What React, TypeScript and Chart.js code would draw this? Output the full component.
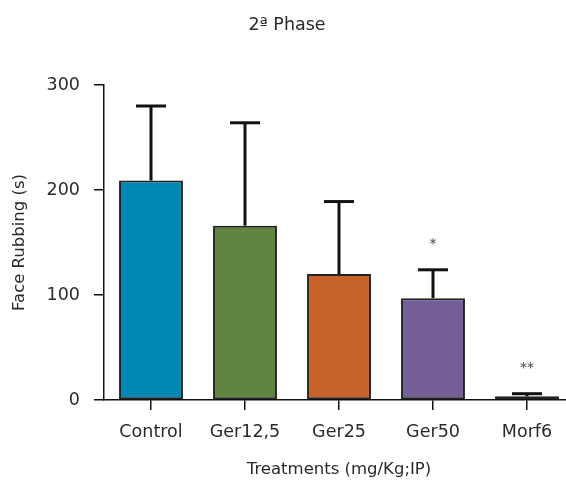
import React, { useEffect, useRef } from "react";
import { Chart, registerables } from "chart.js";

Chart.register(...registerables);

const categories = ["Control", "Ger12,5", "Ger25", "Ger50", "Morf6"];
const means = [209, 166, 120, 97, 3.5];
const errors = [71, 98, 69, 27, 2.5];
const significance = ["", "", "", "*", "**"];
const barColors = ["#0087B4", "#5F8540", "#C7632A", "#735E97", "#BC1F2B"];
const yTicks = [0, 100, 200, 300];

const FONT = "'DejaVu Sans'";
const TEXT = "#2a2a2a";

const errorBarPlugin = {
  id: "errorBars",
  afterDatasetsDraw(chart: any) {
    const ctx = chart.ctx;
    const meta = chart.getDatasetMeta(0);
    const yScale = chart.scales.y;
    ctx.save();
    meta.data.forEach((el: any, i: number) => {
      const x = el.x;
      const yBase = yScale.getPixelForValue(means[i]);
      const yTop = yScale.getPixelForValue(means[i] + errors[i]);
      ctx.strokeStyle = "#111";
      ctx.lineWidth = 3;
      ctx.lineCap = "butt";
      ctx.beginPath();
      ctx.moveTo(x, yBase);
      ctx.lineTo(x, yTop);
      ctx.stroke();
      ctx.beginPath();
      ctx.moveTo(x - 15, yTop);
      ctx.lineTo(x + 15, yTop);
      ctx.stroke();
      if (significance[i]) {
        ctx.fillStyle = "#444";
        ctx.font = `14px ${FONT}`;
        ctx.textAlign = "center";
        ctx.textBaseline = "middle";
        ctx.fillText(significance[i], x, yTop - 25);
      }
    });
    ctx.restore();
  },
};

export default function App() {
  const ref = useRef<HTMLCanvasElement>(null);
  useEffect(() => {
    document.body.style.margin = "0";
    const chart = new Chart(ref.current!, {
      type: "bar",
      data: {
        labels: categories,
        datasets: [
          {
            data: means,
            backgroundColor: barColors,
            borderColor: "#222",
            borderWidth: 2,
            borderSkipped: false,
            barPercentage: 0.68,
            categoryPercentage: 1,
          },
        ],
      },
      options: {
        responsive: false,
        animation: false,
        layout: { padding: { left: 0, right: 20, top: 0, bottom: 0 } },
        plugins: {
          legend: { display: false },
          tooltip: { enabled: false },
          title: {
            display: true,
            text: "2ª Phase",
            color: TEXT,
            font: { family: FONT, size: 17.5, weight: "normal" },
            padding: { top: 14.5, bottom: 49.5 },
          },
        },
        scales: {
          x: {
            offset: true,
            grid: {
              offset: false,
              drawOnChartArea: false,
              tickLength: 10,
              color: "#111",
              lineWidth: 1.5,
            },
            border: { display: true, color: "#111", width: 1.5 },
            ticks: {
              color: TEXT,
              padding: 12,
              font: { family: FONT, size: 17.5 },
              maxRotation: 0,
            },
            title: {
              display: true,
              text: "Treatments (mg/Kg;IP)",
              color: TEXT,
              font: { family: FONT, size: 16.5 },
              padding: { top: 0, bottom: 8 },
            },
            afterFit: (s: any) => {
              s.height = 88;
            },
          },
          y: {
            min: 0,
            max: 300,
            afterBuildTicks: (s: any) => {
              s.ticks = yTicks.map((v) => ({ value: v }));
            },
            grid: {
              drawOnChartArea: false,
              tickLength: 10,
              color: "#111",
              lineWidth: 1.5,
            },
            border: { display: true, color: "#111", width: 1.5 },
            ticks: {
              color: TEXT,
              padding: 14,
              font: { family: FONT, size: 17.5 },
            },
            title: {
              display: true,
              text: "Face Rubbing (s)",
              color: TEXT,
              font: { family: FONT, size: 16.5 },
              padding: { top: 10, bottom: 0 },
            },
            afterFit: (s: any) => {
              s.width = 104;
            },
          },
        },
      },
      plugins: [errorBarPlugin],
    });
    return () => chart.destroy();
  }, []);
  return (
    <div
      style={{
        position: "fixed",
        left: 0,
        top: 0,
        width: 566,
        height: 488,
        overflow: "hidden",
        background: "#fff",
      }}
    >
      <canvas ref={ref} width={594} height={488} style={{ width: 594, height: 488 }} />
    </div>
  );
}
